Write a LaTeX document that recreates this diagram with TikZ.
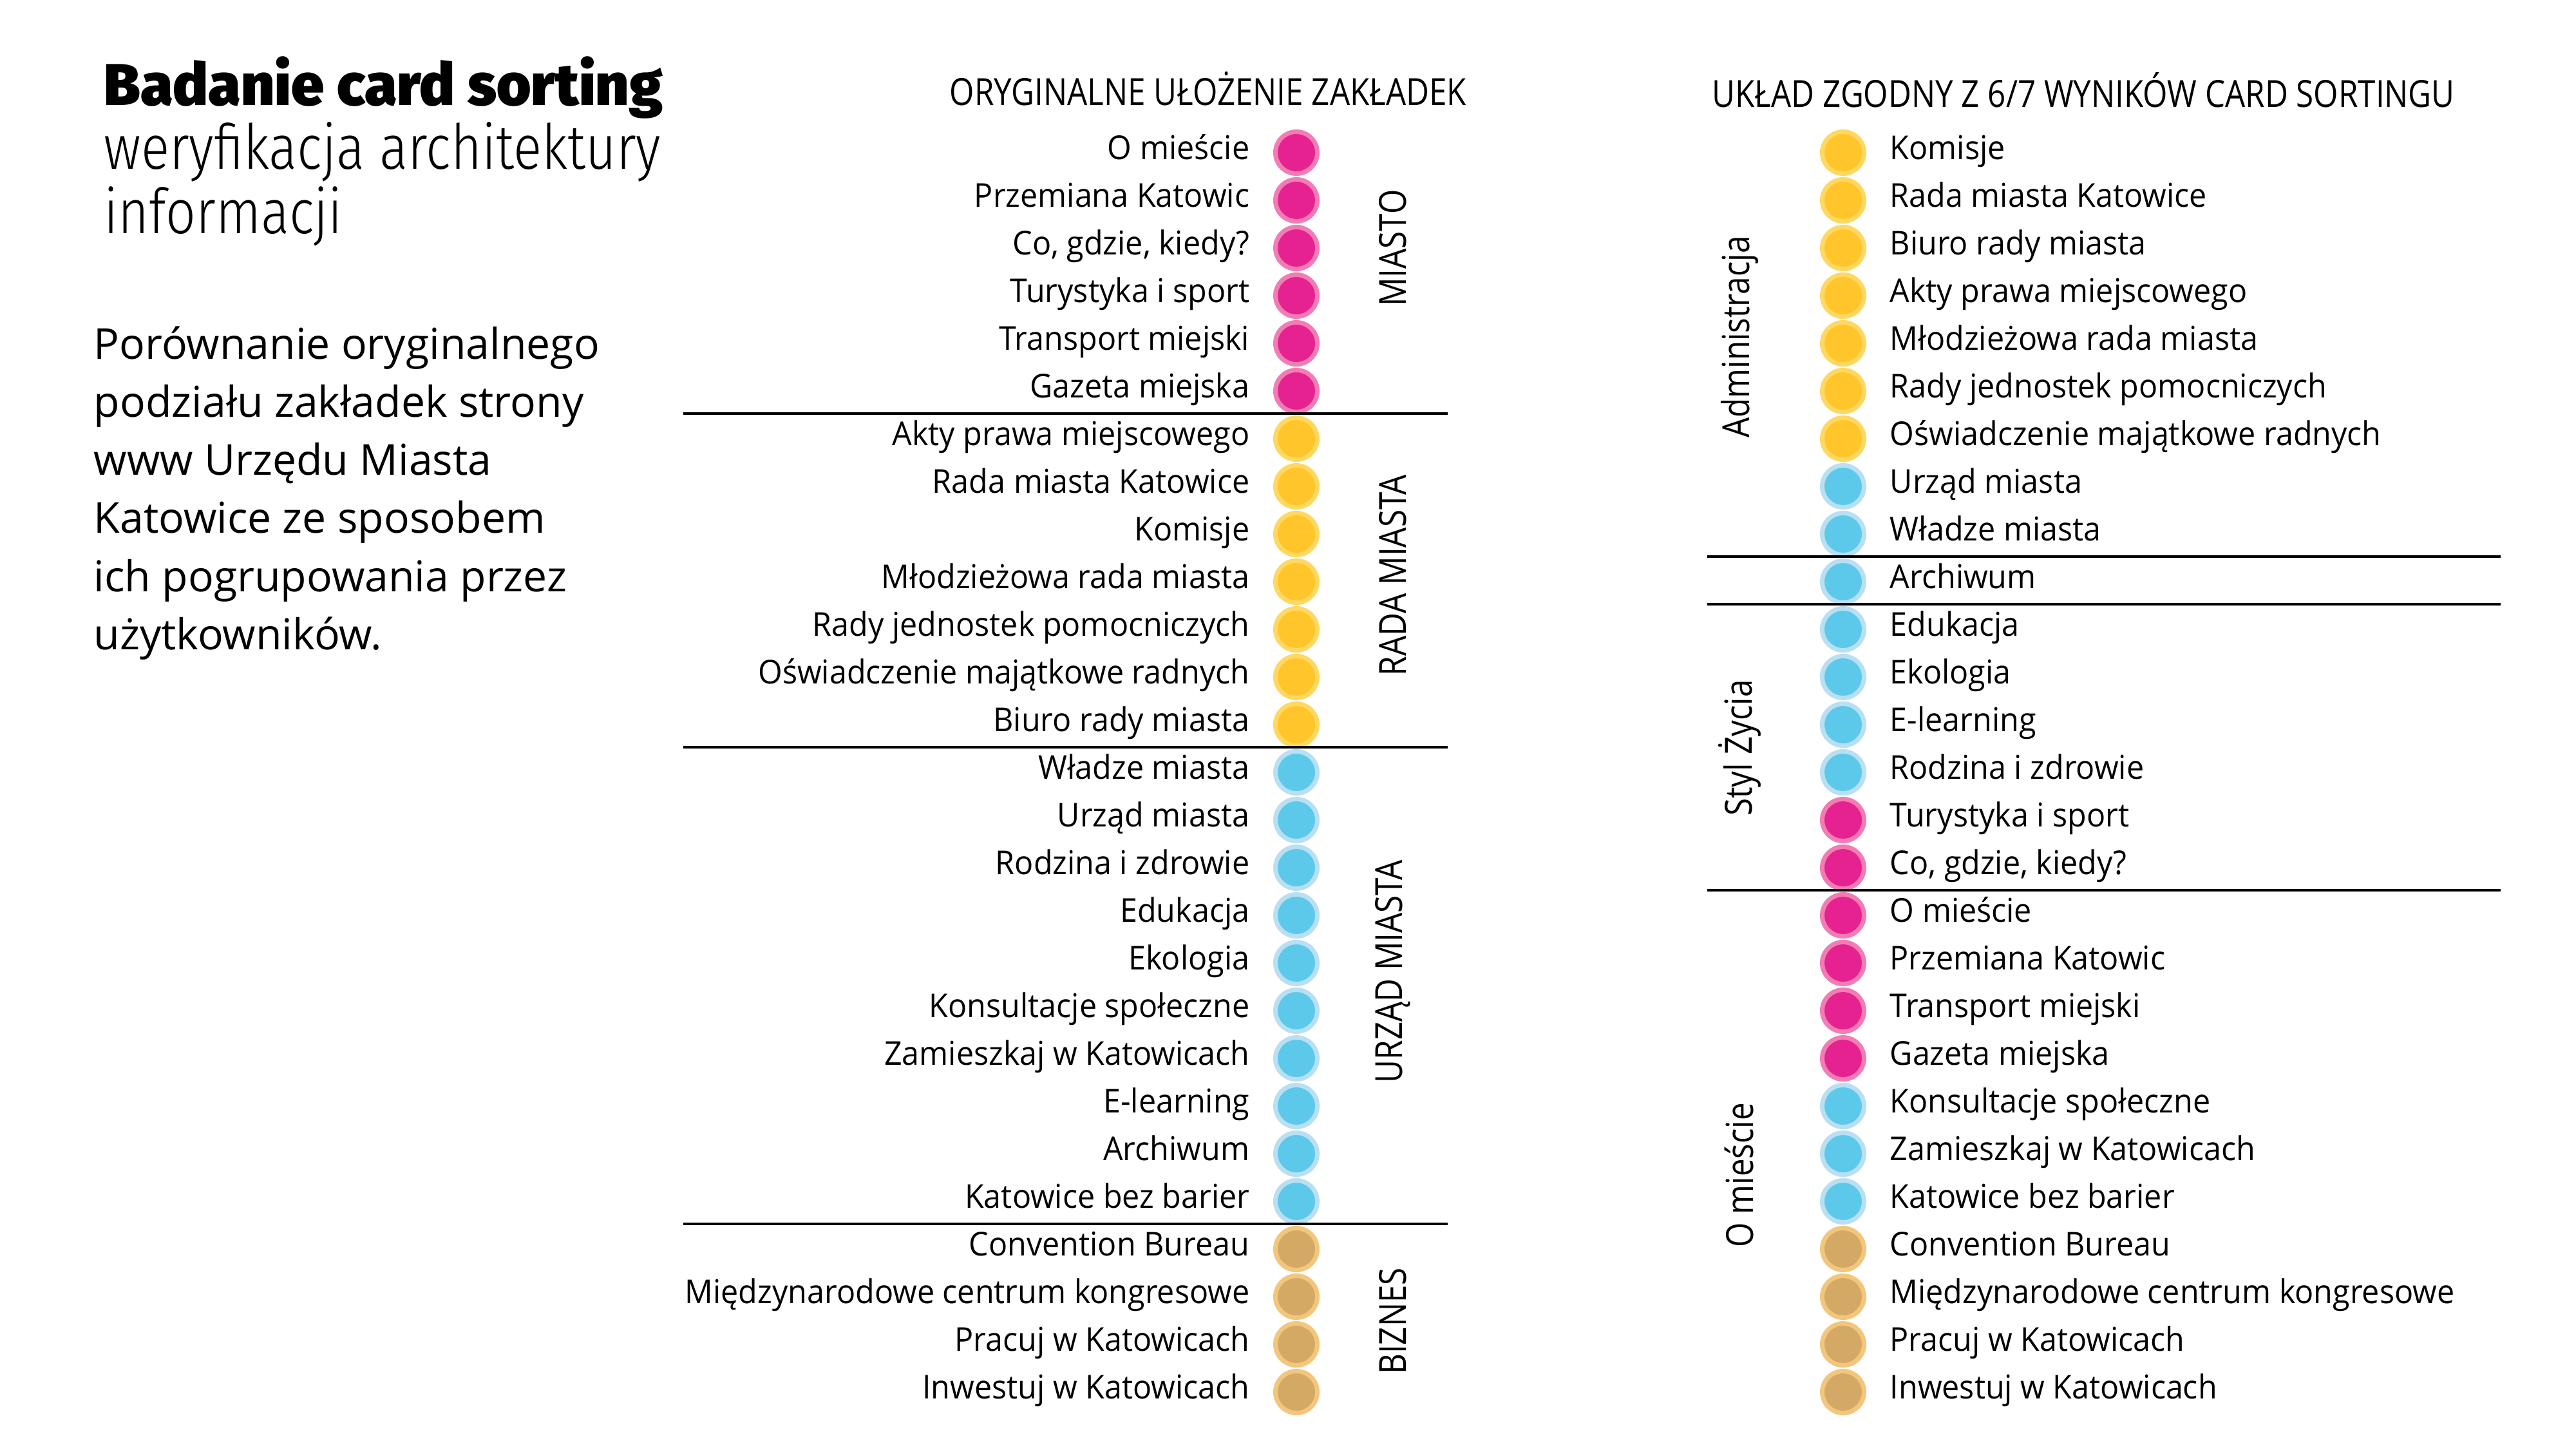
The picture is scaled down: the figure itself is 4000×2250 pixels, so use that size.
\documentclass[tikz,border=0pt]{standalone}
\usepackage{fontspec}
\setmainfont{Open Sans}
\newfontfamily\titlefont{Fira Sans Black}
\newfontfamily\subfont[FakeStretch=0.85]{Fira Sans Light}
\newfontfamily\headfont[FakeStretch=0.85]{Open Sans}
\newfontfamily\lblfont[FakeStretch=0.95]{Open Sans}
\usetikzlibrary{positioning}

\definecolor{magIn}{HTML}{E5228F}
\definecolor{magOut}{HTML}{F27DB4}
\definecolor{yelIn}{HTML}{FFC52A}
\definecolor{yelOut}{HTML}{FFD862}
\definecolor{bluIn}{HTML}{5DC9EA}
\definecolor{bluOut}{HTML}{B9DFF2}
\definecolor{tanIn}{HTML}{D4A965}
\definecolor{tanOut}{HTML}{F2C77D}

\tikzset{
  dot/.style={circle,inner sep=0pt,minimum size=0.65cm,line width=0.07cm},
  mag/.style={dot,fill=magIn,draw=magOut},
  yel/.style={dot,fill=yelIn,draw=yelOut},
  blu/.style={dot,fill=bluIn,draw=bluOut},
  tan/.style={dot,fill=tanIn,draw=tanOut},
  lbl/.style={inner sep=0pt,font=\lblfont\fontsize{14.5}{16}\selectfont,text height=0.8em,text depth=0.2em},
  grp/.style={rotate=90,inner sep=0pt,font=\headfont\fontsize{16.5}{18}\selectfont},
  head/.style={inner sep=0pt,font=\headfont\fontsize{16.5}{18}\selectfont},
  sep/.style={line width=0.04cm}
}

\begin{document}
\begin{tikzpicture}[x=0.01cm,y=-0.01cm]
\useasboundingbox (0,0) rectangle (4000,2250);

% tytul i opis
\node[inner sep=0pt,anchor=base west,font=\titlefont\fontsize{26}{30}\selectfont] (title) at (161,163) {Badanie card sorting};
\node[inner sep=0pt,anchor=base west,align=left,font=\subfont\fontsize{27.5}{28.4}\selectfont] (subtitle) at (161,362) {weryfikacja architektury\\informacji};
\node[inner sep=0pt,anchor=base west,align=left,font=\fontsize{18.8}{25.6}\selectfont] (desc) at (145,1008) {Porównanie oryginalnego\\podziału zakładek strony\\www Urzędu Miasta\\Katowice ze sposobem\\ich pogrupowania przez\\użytkowników.};

% naglowki
\node[head] (headL) at (1876,138) {ORYGINALNE UŁOŻENIE ZAKŁADEK};
\node[head] (headR) at (3235,140) {UKŁAD ZGODNY Z 6/7 WYNIKÓW CARD SORTINGU};

% lewa kolumna
\foreach \lbl/\col [count=\i from 0] in {O mieście/mag,Przemiana Katowic/mag,{Co, gdzie, kiedy?}/mag,Turystyka i sport/mag,Transport miejski/mag,Gazeta miejska/mag,
  Akty prawa miejscowego/yel,Rada miasta Katowice/yel,Komisje/yel,Młodzieżowa rada miasta/yel,Rady jednostek pomocniczych/yel,Oświadczenie majątkowe radnych/yel,Biuro rady miasta/yel,
  Władze miasta/blu,Urząd miasta/blu,Rodzina i zdrowie/blu,Edukacja/blu,Ekologia/blu,Konsultacje społeczne/blu,Zamieszkaj w Katowicach/blu,E-learning/blu,Archiwum/blu,Katowice bez barier/blu,
  Convention Bureau/tan,Międzynarodowe centrum kongresowe/tan,Pracuj w Katowicach/tan,Inwestuj w Katowicach/tan}
{
  \node[\col] (L\i) at (2013,{237+74*\i}) {};
  \node[lbl,left=0.36cm of L\i] (Lt\i) {\lbl};
}

% prawa kolumna
\foreach \lbl/\col [count=\i from 0] in {Komisje/yel,Rada miasta Katowice/yel,Biuro rady miasta/yel,Akty prawa miejscowego/yel,Młodzieżowa rada miasta/yel,Rady jednostek pomocniczych/yel,Oświadczenie majątkowe radnych/yel,Urząd miasta/blu,Władze miasta/blu,
  Archiwum/blu,
  Edukacja/blu,Ekologia/blu,E-learning/blu,Rodzina i zdrowie/blu,Turystyka i sport/mag,{Co, gdzie, kiedy?}/mag,
  O mieście/mag,Przemiana Katowic/mag,Transport miejski/mag,Gazeta miejska/mag,Konsultacje społeczne/blu,Zamieszkaj w Katowicach/blu,Katowice bez barier/blu,Convention Bureau/tan,Międzynarodowe centrum kongresowe/tan,Pracuj w Katowicach/tan,Inwestuj w Katowicach/tan}
{
  \node[\col] (R\i) at (2862,{237+74*\i}) {};
  \node[lbl,right=0.36cm of R\i] (Rt\i) {\lbl};
}

% linie podzialu
\foreach \k in {5.5,12.5,22.5}
  \draw[sep] (1061,{235+74*\k}) -- (2248,{235+74*\k});
\foreach \k in {8.5,9.5,15.5}
  \draw[sep] (2651,{235+74*\k}) -- (3883,{235+74*\k});

% grupy
\node[grp] (gMiasto) at (2163,385) {MIASTO};
\node[grp] (gRada) at (2163,893) {RADA MIASTA};
\node[grp] (gUrzad) at (2163,1508) {URZĄD MIASTA};
\node[grp] (gBiznes) at (2163,2051) {BIZNES};
\node[grp] (gAdmin) at (2701,523) {Administracja};
\node[grp] (gStyl) at (2701,1161) {Styl Życia};
\node[grp] (gOm) at (2701,1824) {O mieście};
\end{tikzpicture}
\end{document}
